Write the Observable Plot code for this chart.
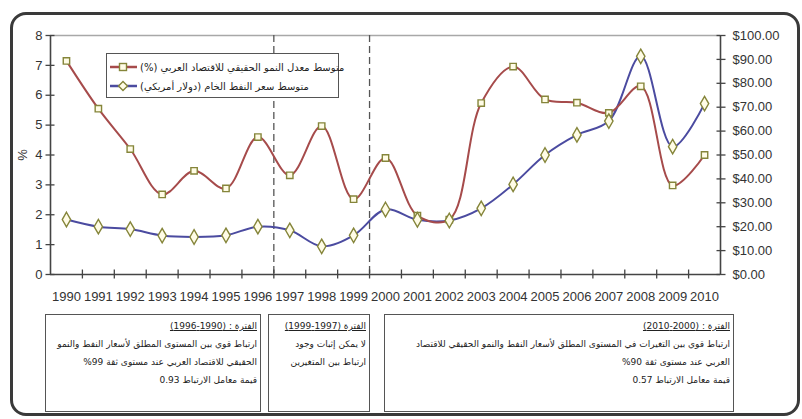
<!DOCTYPE html>
<html>
<head>
<meta charset="utf-8">
<script src="https://cdn.jsdelivr.net/npm/d3@7"></script>
<script src="https://cdn.jsdelivr.net/npm/@observablehq/plot@0.6"></script>
<style>
  body { margin: 0; background: #fff; }
  #wrap { position: relative; width: 802px; height: 419px; overflow: hidden; font-family: "Liberation Sans", Arial, sans-serif; }
  #border { position: absolute; left: 10px; top: 12px; width: 784px; height: 398px; border: 3px solid #3a3a3a; border-radius: 16px; }
  #chart { position: absolute; left: 0; top: 0; }
  .legend { position: absolute; left: 106px; top: 53px; width: 231px; height: 43px; border: 1px solid #555; background: #fff; }
  .legend .row { position: absolute; left: 3px; height: 18px; display: flex; align-items: center; white-space: nowrap; }
  .legend .row span { font-family: "DejaVu Sans", sans-serif; font-size: 10px; color: #222; margin-left: 3px; }
  .box { position: absolute; top: 314px; height: 98px; border: 1px solid #555; box-sizing: border-box; direction: rtl; text-align: right;
         font-family: "DejaVu Sans", sans-serif; font-size: 9px; line-height: 18px; padding: 2px 3px; color: #222; white-space: nowrap; overflow: hidden; }
  .box .h { text-decoration: underline; }
</style>
</head>
<body>
<div id="wrap">
  <div id="border"></div>
  <div id="chart"></div>
  <div class="legend" id="legend"></div>
  <div class="box" style="left:45px;width:216px;" id="box1"></div>
  <div class="box" style="left:268px;width:102px;" id="box2"></div>
  <div class="box" style="left:384px;width:350px;" id="box3"></div>
</div>
<script>
// Years on the category axis
const years = [1990, 1991, 1992, 1993, 1994, 1995, 1996, 1997, 1998, 1999, 2000,
               2001, 2002, 2003, 2004, 2005, 2006, 2007, 2008, 2009, 2010];
// Average real growth of the Arab economy (%)
const growth = [7.15, 5.55, 4.2, 2.68, 3.47, 2.88, 4.6, 3.32, 4.97, 2.52, 3.9,
                1.97, 1.84, 5.74, 6.96, 5.86, 5.75, 5.41, 6.3, 2.98, 4.0];
// Average crude oil price (US dollars)
const oilPrice = [23, 20, 19, 16.3, 15.7, 16.4, 20, 18.5, 11.8, 16.4, 27.2,
                  22.9, 22.6, 27.7, 37.7, 50, 58.4, 64.2, 91.3, 53.5, 71.5];
// Axis ticks
const growthTicks = [0, 1, 2, 3, 4, 5, 6, 7, 8];
const priceTicks = [0, 10, 20, 30, 40, 50, 60, 70, 80, 90, 100];
// Period boundaries (dashed separators)
const periodBreaks = [1996.5, 1999.5];

const seriesNames = ["متوسط معدل النمو الحقيقي للاقتصاد العربي (%)", "متوسط سعر النفط الخام (دولار أمريكي)"];
const growthColor = "#a64b4b";
const oilColor = "#4b4ba0";
const markerFill = "#fffce6";
const markerStroke = "#85853a";

// Both series share one y scale: $100 on the right sits level with 8% on the left
const dollarsPerPoint = 12.5;
const rows = years.map((year, i) => ({year, growth: growth[i], oil: oilPrice[i] / dollarsPerPoint}));
const categoryEdges = d3.range(1990.5, 2010, 1);

const axisColor = "#444";

const chart = Plot.plot({
  width: 802,
  height: 310,
  marginLeft: 50,
  marginRight: 82,
  marginTop: 35,
  marginBottom: 36,
  x: {domain: [1989.5, 2010.5]},
  y: {domain: [0, 8]},
  style: {fontFamily: "'Liberation Sans', Arial, sans-serif", fontSize: "13px", color: "#333", background: "transparent"},
  marks: [
    Plot.ruleY([8], {stroke: "#a8a8a8", strokeWidth: 1.5}),
    Plot.ruleX(periodBreaks, {stroke: "#555", strokeWidth: 1.3, strokeDasharray: "7,4"}),
    Plot.line(rows, {x: "year", y: "oil", curve: "catmull-rom", stroke: oilColor, strokeWidth: 2}),
    Plot.line(rows, {x: "year", y: "growth", curve: "catmull-rom", stroke: growthColor, strokeWidth: 2}),
    Plot.dot(rows, {x: "year", y: "growth", symbol: "square", r: 3.6, fill: markerFill, stroke: markerStroke, strokeWidth: 1.4}),
    Plot.dot(rows, {x: "year", y: "oil", symbol: "diamond", r: 4.4, fill: markerFill, stroke: markerStroke, strokeWidth: 1.4}),
    Plot.ruleX([1989.5, 2010.5], {stroke: axisColor, strokeWidth: 1.6}),
    Plot.ruleY([0], {stroke: axisColor, strokeWidth: 1.6}),
    // left axis: crossing tick marks, then labels
    Plot.axisY({anchor: "left", ticks: growthTicks, tickSize: 9, dx: 4.5, tickFormat: () => "", label: null, stroke: axisColor, strokeWidth: 1.3}),
    Plot.axisY({anchor: "left", ticks: growthTicks, tickSize: 0, tickPadding: 8, tickFormat: "d",
                label: "%", labelAnchor: "center", labelArrow: "none", labelOffset: 33}),
    // right axis (dollars)
    Plot.axisY({anchor: "right", ticks: priceTicks.map(p => p / dollarsPerPoint), tickSize: 9, dx: -4.5,
                tickFormat: () => "", label: null, stroke: axisColor, strokeWidth: 1.3}),
    Plot.axisY({anchor: "right", ticks: priceTicks.map(p => p / dollarsPerPoint), tickSize: 0, tickPadding: 12,
                tickFormat: v => "$" + (v * dollarsPerPoint).toFixed(2), label: null}),
    // bottom axis: ticks between categories, year labels centred on categories
    Plot.axisX({ticks: categoryEdges, tickSize: 9, dy: -4.5, tickFormat: () => "", label: null, stroke: axisColor, strokeWidth: 1.3}),
    Plot.axisX({ticks: years, tickSize: 0, tickPadding: 17, tickFormat: "d", label: null})
  ]
});
document.getElementById("chart").append(chart);

// Legend
function swatch(color, shape) {
  const marker = shape === "square"
    ? `<rect x="9.5" y="2.5" width="7" height="7" fill="${markerFill}" stroke="${markerStroke}" stroke-width="1.4"/>`
    : `<path d="M13,1.5 L17.5,6 L13,10.5 L8.5,6 Z" fill="${markerFill}" stroke="${markerStroke}" stroke-width="1.4"/>`;
  return `<svg width="27" height="12"><line x1="0" y1="6" x2="27" y2="6" stroke="${color}" stroke-width="2.5"/>${marker}</svg>`;
}
document.getElementById("legend").innerHTML =
  `<div class="row" style="top:4px">${swatch(growthColor, "square")}<span dir="rtl">${seriesNames[0]}</span></div>` +
  `<div class="row" style="top:23px">${swatch(oilColor, "diamond")}<span dir="rtl">${seriesNames[1]}</span></div>`;

// Period notes under the chart
const periodNotes = [
  ["الفترة : (1990-1996)", "ارتباط قوي بين المستوى المطلق لأسعار النفط والنمو", "الحقيقي للاقتصاد العربي عند مستوى ثقة 99%", "قيمة معامل الارتباط 0.93"],
  ["الفترة (1997-1999)", "لا يمكن إثبات وجود", "ارتباط بين المتغيرين"],
  ["الفترة : (2000-2010)", "ارتباط قوي بين التغيرات في المستوى المطلق لأسعار النفط والنمو الحقيقي للاقتصاد", "العربي عند مستوى ثقة 90%", "قيمة معامل الارتباط 0.57"]
];
periodNotes.forEach((lines, i) => {
  document.getElementById("box" + (i + 1)).innerHTML =
    lines.map((t, j) => `<div class="${j === 0 ? "h" : ""}">${t}</div>`).join("");
});
</script>
</body>
</html>
